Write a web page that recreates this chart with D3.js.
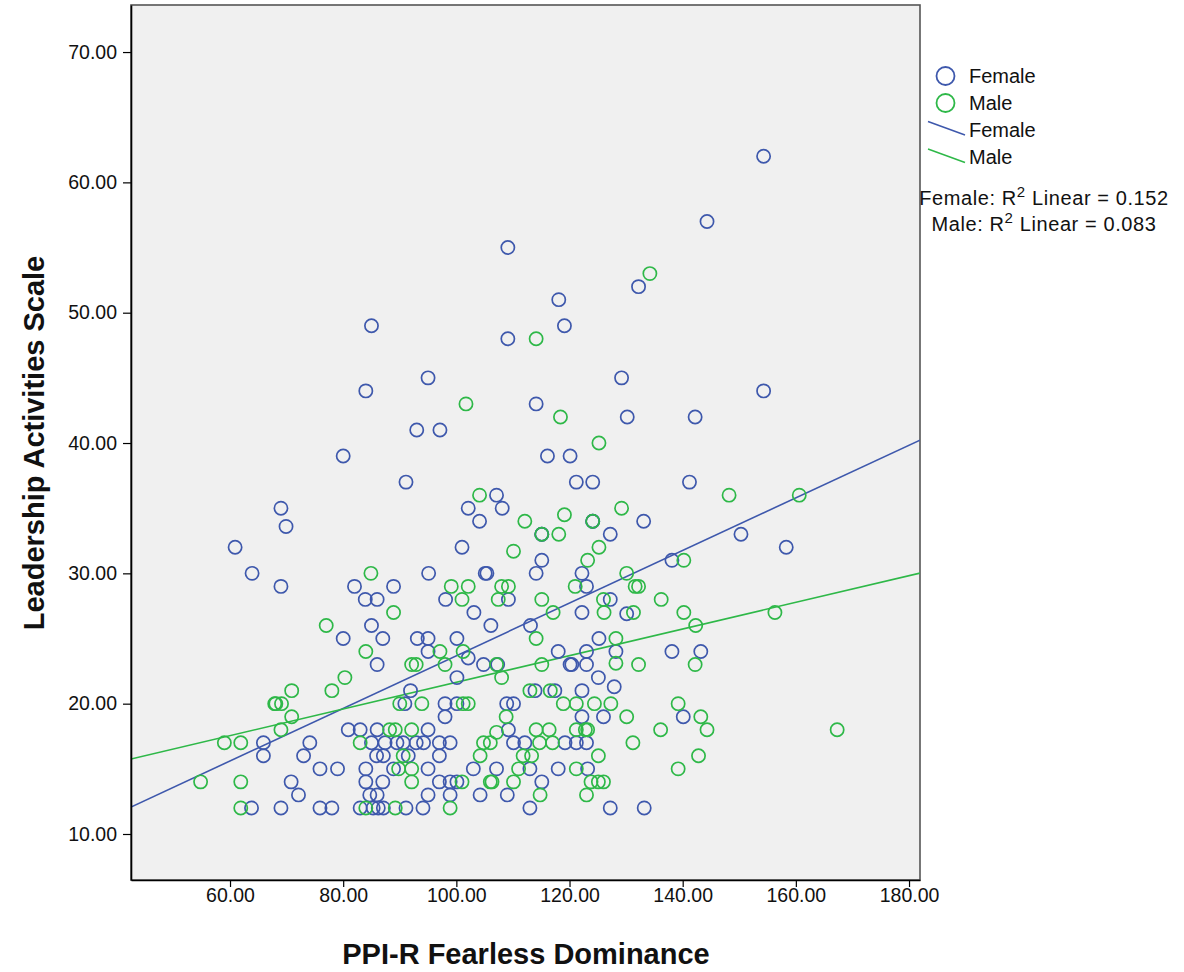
<!DOCTYPE html>
<html>
<head>
<meta charset="utf-8">
<script src="https://cdn.jsdelivr.net/npm/d3@7"></script>
<style>
  html, body { margin: 0; padding: 0; background: #ffffff; }
  svg { display: block; }
  text { font-family: "Liberation Sans", Arial, sans-serif; }
</style>
</head>
<body>
<svg id="chart" width="1184" height="972"></svg>
<script>
// ---------------- DATA ----------------
const groups = ["Female", "Male"];

const femaleX = [154.3,144.3,109.1,132.2,118.1,119.1,85.0,109.1,95.0,129.2,84.0,154.3,114.1,130.2,142.2,93.0,97.1,80.0,116.1,120.1,
  91.1,121.2,124.1,141.2,107.1,69.0,102.1,108.1,104.1,124.1,133.1,69.9,115.1,127.2,150.3,60.9,101.0,158.3,115.1,138.1,
  63.9,95.1,105.1,105.4,114.1,122.2,69.0,82.0,88.9,123.0,83.9,86.0,98.1,109.2,127.2,85.0,106.1,113.1,103.1,122.2,
  130.1,80.0,87.0,93.1,95.0,100.1,125.2,95.0,118.0,123.0,128.2,138.1,143.2,102.1,86.0,104.8,107.3,120.1,120.4,123.0,
  100.1,125.1,91.9,113.9,117.4,122.2,127.9,90.9,98.0,100.1,108.9,110.1,98.0,122.2,126.0,140.1,80.9,83.0,86.0,95.0,
  109.2,65.9,74.1,85.0,87.4,89.5,90.6,92.9,94.2,97.0,98.9,110.1,112.1,119.2,121.2,123.0,65.9,73.0,85.9,87.1,
  91.5,97.0,75.9,79.0,84.0,88.9,95.0,103.0,107.1,113.0,118.0,123.2,70.8,84.0,87.0,97.0,98.9,100.1,115.1,72.1,
  84.7,86.0,95.0,98.9,104.2,109.0,63.8,69.0,75.9,78.0,83.0,85.3,86.2,87.1,91.1,94.1,113.0,127.2,133.2,115.1,124.1];
const femaleY = [62,57,55,52,51,49,49,48,45,45,44,44,43,42,42,41,41,39,39,39,
  37,37,37,37,36,35,35,35,34,34,34,33.6,33,33,33,32,32,32,31,31,
  30,30,30,30,30,30,29,29,29,29,28,28,28,28,28,26,26,26,27,27,
  26.9,25,25,25,25,25,25,24,24,24,24,24,24,23.5,23,23,23,23,23,23,
  22,22,21,21,21,21,21.3,20,20,20,20,20,19,19,19,19,18,18,18,18,
  18,17,17,17,17,17,17,17,17,17,17,17,17,17,17,17,16,16,16,16,
  16,16,15,15,15,15,15,15,15,15,15,15,14,14,14,14,14,14,14,13,
  13,13,13,13,13,13,12,12,12,12,12,12,12,12,12,12,12,12,12,33,34];

const maleX = [134.2,114.1,101.7,118.4,125.2,104.1,148.2,160.6,129.2,112.1,119.1,124.1,115.1,118.1,110.1,125.2,123.2,140.2,84.9,130.1,
  99.1,102.1,108.0,109.2,121.0,131.6,132.2,101.0,107.4,115.1,126.0,136.2,88.9,117.1,126.1,131.3,140.2,156.3,77.0,142.3,
  114.1,128.2,84.0,97.1,101.2,92.1,92.9,98.0,107.1,115.1,128.2,132.2,142.2,80.3,108.0,70.9,78.0,113.0,116.6,67.9,
  68.1,69.1,90.0,93.9,101.2,102.1,118.9,121.2,124.4,127.3,139.2,70.9,108.8,130.1,143.2,69.0,88.2,89.2,92.1,114.1,
  116.4,121.2,122.8,123.2,136.1,144.3,167.3,107.1,59.0,61.9,83.0,104.8,106.0,114.7,117.0,131.2,90.6,104.2,111.8,113.3,
  125.1,142.8,89.8,92.1,111.0,121.2,139.2,54.8,61.9,92.1,101.0,106.0,106.3,110.1,123.8,125.1,126.0,114.8,123.0,61.9,
  84.0,89.2,98.9];
const maleY = [53,48,43,42,40,36,36,36,35,34,34.5,34,33,33,31.7,32,31,31,30,30,
  29,29,29,29,29,29,29,28,28,28,28,28,27,27,27,27,27,27,26,26,
  25,25,24,24,24,23,23,23,23,23,23.1,23,23,22,22,21,21,21,21,20,
  20,20,20,20,20,20,20,20,20,20,20,19,19,19,19,18,18,18,18,18,
  18,18,18,18,18,18,18,17.8,17,17,17,17,17,17,17,17,16,16,16,16,
  16,16,15,15,15,15,15,14,14,14,14,14,14,14,14,14,14,13,13,12,
  12,12,12];

// fitted linear regression lines (intercept, slope) per group
const fitIntercept = [3.49, 11.41];
const fitSlope = [0.2019, 0.1023];
const rSquared = ["0.152", "0.083"];

const xTicks = [60, 80, 100, 120, 140, 160, 180];
const yTicks = [10, 20, 30, 40, 50, 60, 70];
const xDomain = [42.5, 181.94];
const yDomain = [6.47, 73.61];

const xTitle = "PPI-R Fearless Dominance";
const yTitle = "Leadership Activities Scale";

// ---------------- DRAW ----------------
const colors = ["#3E58AC", "#2EB848"];
const svg = d3.select("#chart");
const L = 131, R = 920, T = 5, B = 880;

const x = d3.scaleLinear().domain(xDomain).range([L, R]);
const y = d3.scaleLinear().domain(yDomain).range([B, T]);

svg.append("rect").attr("x", L).attr("y", T).attr("width", R - L).attr("height", B - T)
  .attr("fill", "#f0f0f0").attr("stroke", "#555").attr("stroke-width", 1.6);

svg.append("clipPath").attr("id", "clip")
  .append("rect").attr("x", L).attr("y", T).attr("width", R - L).attr("height", B - T);

const series = [d3.zip(femaleX, femaleY), d3.zip(maleX, maleY)];

// regression lines
const gLines = svg.append("g").attr("clip-path", "url(#clip)");
groups.forEach((g, i) => {
  const f = v => fitIntercept[i] + fitSlope[i] * v;
  gLines.append("line")
    .attr("x1", x(xDomain[0])).attr("y1", y(f(xDomain[0])))
    .attr("x2", x(xDomain[1])).attr("y2", y(f(xDomain[1])))
    .attr("stroke", colors[i]).attr("stroke-width", 1.6);
});

// points
const gPts = svg.append("g").attr("clip-path", "url(#clip)");
groups.forEach((g, i) => {
  gPts.selectAll("circle.s" + i).data(series[i]).enter().append("circle")
    .attr("class", "s" + i)
    .attr("cx", d => x(d[0])).attr("cy", d => y(d[1])).attr("r", 6.6)
    .attr("fill", "none").attr("stroke", colors[i]).attr("stroke-width", 1.7);
});

// axes
const xAxis = d3.axisBottom(x).tickValues(xTicks).tickFormat(d3.format(".2f"))
  .tickSize(7).tickSizeOuter(0).tickPadding(1);
const yAxis = d3.axisLeft(y).tickValues(yTicks).tickFormat(d3.format(".2f"))
  .tickSize(8).tickSizeOuter(0).tickPadding(6);

const gx = svg.append("g").attr("transform", `translate(0,${B})`).call(xAxis);
const gy = svg.append("g").attr("transform", `translate(${L},0)`).call(yAxis);
[gx, gy].forEach(g => {
  g.select(".domain").attr("stroke", "#000").attr("stroke-width", 1.6);
  g.selectAll(".tick line").attr("stroke", "#000").attr("stroke-width", 1.2);
  g.selectAll(".tick text").attr("font-size", 19.5).attr("fill", "#111")
    .style("font-family", '"Liberation Sans", Arial, sans-serif');
});

// axis titles
svg.append("text").attr("x", 526).attr("y", 964).attr("text-anchor", "middle")
  .attr("font-size", 29).attr("font-weight", "bold").attr("fill", "#111").text(xTitle);
svg.append("text").attr("transform", "translate(44,443) rotate(-90)").attr("text-anchor", "middle")
  .attr("font-size", 29).attr("font-weight", "bold").attr("fill", "#111").text(yTitle);

// legend
const lg = svg.append("g");
groups.forEach((g, i) => {
  const cy = 76 + i * 27;
  lg.append("circle").attr("cx", 945.5).attr("cy", cy).attr("r", 9)
    .attr("fill", "none").attr("stroke", colors[i]).attr("stroke-width", 1.8);
  lg.append("text").attr("x", 969).attr("y", cy + 6.5).attr("font-size", 20).attr("fill", "#111").text(g);
});
groups.forEach((g, i) => {
  const by = 136.5 + i * 27.5;
  lg.append("line").attr("x1", 928).attr("y1", by - 15).attr("x2", 965).attr("y2", by - 1.5)
    .attr("stroke", colors[i]).attr("stroke-width", 1.5);
  lg.append("text").attr("x", 969).attr("y", by).attr("font-size", 20).attr("fill", "#111").text(g);
});
groups.forEach((g, i) => {
  const t = lg.append("text").attr("x", 1044).attr("y", 204.5 + i * 26.5).attr("text-anchor", "middle")
    .attr("font-size", 20).attr("letter-spacing", 0.6).attr("fill", "#111");
  t.append("tspan").text(g + ": R");
  t.append("tspan").attr("dy", -8).attr("font-size", 15).text("2");
  t.append("tspan").attr("dy", 8).text(" Linear = " + rSquared[i]);
});
</script>
</body>
</html>
